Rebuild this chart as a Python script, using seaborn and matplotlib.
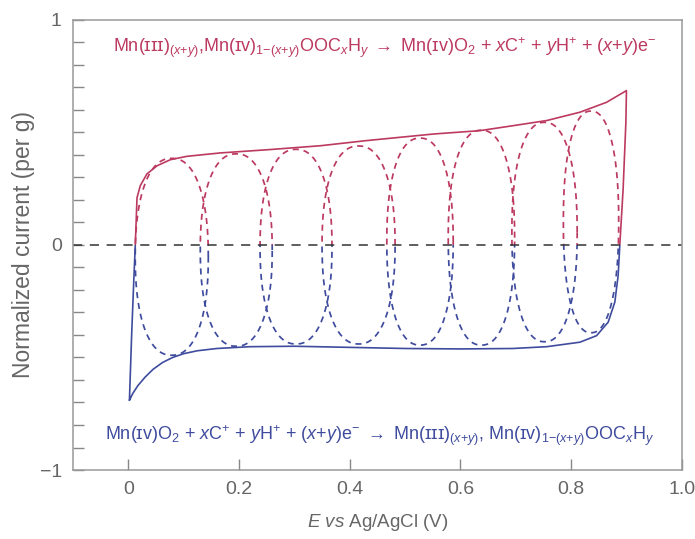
# Voltamograma esquemático: envolvente CV + bucles redox individuales
import numpy as np
import matplotlib.pyplot as plt
import seaborn as sns
from matplotlib.patches import Rectangle

# Barrido anódico (curva superior)
anodic_x = [0.002, 0.006, 0.010, 0.0126, 0.0157, 0.0217, 0.0337, 0.052, 0.076, 0.106,
            0.166, 0.256, 0.347, 0.431, 0.551, 0.635, 0.695, 0.756, 0.816, 0.864, 0.900]
anodic_y = [-0.69, -0.40, -0.15, 0.0, 0.21, 0.264, 0.316, 0.352, 0.379, 0.394,
            0.409, 0.424, 0.441, 0.464, 0.493, 0.508, 0.530, 0.553, 0.590, 0.634, 0.686]

# Barrido catódico (curva inferior), de derecha a izquierda
cathodic_x = [0.900, 0.899, 0.894, 0.888, 0.885, 0.879, 0.867, 0.846, 0.816, 0.756,
              0.695, 0.60, 0.50, 0.40, 0.30, 0.22, 0.16, 0.125, 0.10, 0.08,
              0.062, 0.045, 0.030, 0.017, 0.008, 0.002]
cathodic_y = [0.686, 0.546, 0.249, 0.0, -0.136, -0.254, -0.343, -0.403, -0.432, -0.452,
              -0.460, -0.462, -0.460, -0.455, -0.450, -0.452, -0.460, -0.470, -0.483, -0.50,
              -0.522, -0.552, -0.588, -0.626, -0.660, -0.69]

# Bucles redox individuales (líneas discontinuas)
loop_centers = [0.0785, 0.195, 0.303, 0.416, 0.527, 0.638, 0.752, 0.836]
loop_halfwidths = [0.066, 0.065, 0.065, 0.066, 0.060, 0.060, 0.059, 0.050]
loop_tops = [0.385, 0.405, 0.425, 0.44, 0.475, 0.51, 0.545, 0.595]
loop_bottoms = [-0.49, -0.45, -0.44, -0.44, -0.445, -0.445, -0.43, -0.39]

x_ticks = [0, 0.2, 0.4, 0.6, 0.8, 1.0]
x_ticklabels = ["0", "0.2", "0.4", "0.6", "0.8", "1.0"]
y_ticks = [-1, 0, 1]
y_ticklabels = ["\u22121", "0", "1"]

top_eq = (r"Mn(ɪɪɪ)$_{(x{+}y)}$,Mn(ɪᴠ)$_{1{-}(x{+}y)}$OOC$_x$H$_y$ $\rightarrow$ "
          r"Mn(ɪᴠ)O$_2$ + $x$C$^{{+}}$ + $y$H$^{{+}}$ + ($x$+$y$)e$^{{-}}$")
bottom_eq = (r"Mn(ɪᴠ)O$_2$ + $x$C$^{{+}}$ + $y$H$^{{+}}$ + ($x$+$y$)e$^{{-}}$ $\rightarrow$ "
             r"Mn(ɪɪɪ)$_{(x{+}y)}$, Mn(ɪᴠ)$_{1{-}(x{+}y)}$OOC$_x$H$_y$")

RED = "#bc3a60"
BLUE = "#3f4c9e"
GREY = "#666666"

sns.set_style("ticks")
plt.rcParams['font.family'] = ['Liberation Sans', 'DejaVu Sans']
plt.rcParams['mathtext.fontset'] = 'custom'
plt.rcParams['mathtext.rm'] = 'Liberation Sans'
plt.rcParams['mathtext.it'] = 'Liberation Sans:italic'
plt.rcParams['mathtext.sf'] = 'Liberation Sans'
plt.rcParams['mathtext.bf'] = 'Liberation Sans:bold'
plt.rcParams['mathtext.fallback'] = 'stixsans'

fig = plt.figure(figsize=(6.95, 5.39), dpi=100)
ax = fig.add_axes([0.105, 0.128, 0.876, 0.835])


def clipped_line(x, y, **kw):
    """Dibuja la curva dos veces: roja por encima de 0 y azul por debajo"""
    for color, y0 in [(RED, 0), (BLUE, -2)]:
        sns.lineplot(x=x, y=y, sort=False, estimator=None, ax=ax, color=color, **kw)
        rect = Rectangle((-0.2, y0), 1.4, 2, transform=ax.transData)
        ax.lines[-1].set_clip_path(rect)


# Bucles discontinuos
t = np.linspace(0, 2 * np.pi, 300)
for cx, hw, top, bot in zip(loop_centers, loop_halfwidths, loop_tops, loop_bottoms):
    cy = (top + bot) / 2
    hh = (top - bot) / 2
    ex = cx + hw * np.sign(np.cos(t)) * np.abs(np.cos(t)) ** 0.88
    ey = cy + hh * np.sign(np.sin(t)) * np.abs(np.sin(t)) ** 0.88
    clipped_line(ex, ey, linewidth=1.25, dashes=(3.5, 2.8))

# Envolvente continua
clipped_line(anodic_x + cathodic_x, anodic_y + cathodic_y, linewidth=1.2)

ax.axhline(0, color="#333333", linewidth=1.1, dashes=(6, 5))

ax.set_xlim(-0.1, 1.0)
ax.set_ylim(-1, 1)
ax.set_xticks(x_ticks)
ax.set_xticklabels(x_ticklabels)
ax.set_yticks(y_ticks)
ax.set_yticklabels(y_ticklabels)
ax.set_yticks(np.arange(-0.9, 0.95, 0.1), minor=True)
ax.tick_params(axis='both', which='both', direction='in', length=8, width=1,
               color="#888888", labelcolor=GREY, labelsize=14)
ax.tick_params(axis='x', pad=8)
ax.tick_params(axis='y', pad=8)
for sp in ax.spines.values():
    sp.set_visible(True)
    sp.set_color("#999999")
    sp.set_linewidth(1.1)

ax.set_xlabel(r"$E\ vs$ Ag/AgCl (V)", fontsize=13.5, color=GREY, labelpad=10)
ax.set_ylabel("Normalized current (per g)", fontsize=16.5, color=GREY, labelpad=3)

ax.text(-0.027, 0.876, top_eq, color=RED, fontsize=13, va='center', ha='left')
ax.text(-0.043, -0.845, bottom_eq, color=BLUE, fontsize=13, va='center', ha='left')

fig.savefig("out.png", dpi=100)
